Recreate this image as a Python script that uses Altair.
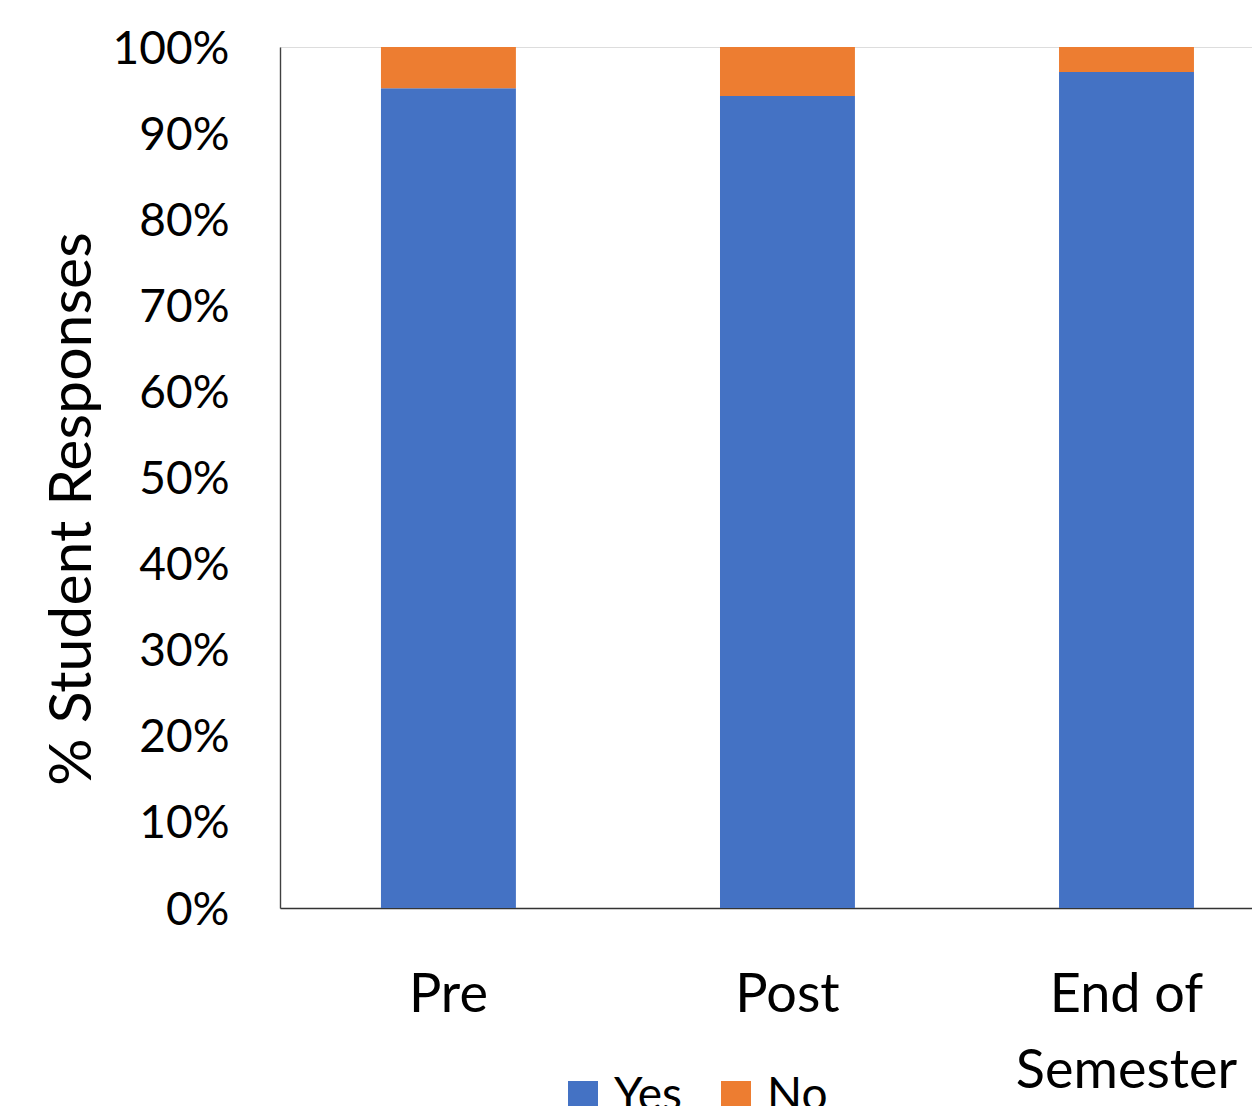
import altair as alt
import pandas as pd

categories = ["Pre", "Post", "End of Semester"]
responses = ["Yes", "No"]
yes_values = [0.952, 0.943, 0.971]
no_values = [0.048, 0.057, 0.029]
colors = ["#4472C4", "#ED7D31"]
y_ticks = [0, 0.1, 0.2, 0.3, 0.4, 0.5, 0.6, 0.7, 0.8, 0.9, 1.0]

rows = []
for c, y, n in zip(categories, yes_values, no_values):
    rows.append({"Time": c, "Response": "Yes", "Share": y, "order": 0})
    rows.append({"Time": c, "Response": "No", "Share": n, "order": 1})
df = pd.DataFrame(rows)

FONT = "Lato"

chart = (
    alt.Chart(df)
    .mark_bar(strokeWidth=0)
    .encode(
        x=alt.X(
            "Time:N",
            sort=categories,
            scale=alt.Scale(paddingInner=0.602, paddingOuter=0.2345, align=0.635),
            axis=alt.Axis(
                title=None,
                labelAngle=0,
                ticks=False,
                tickSize=0,
                labelPadding=60,
                labelFont=FONT,
                labelFontSize=54,
                labelColor="#000000",
                labelLineHeight=76,
                labelLimit=0,
                labelExpr="datum.value == 'End of Semester' ? ['End of', 'Semester'] : datum.value",
                domainColor="#333333",
                domainWidth=1.6,
                labelOverlap=False,
            ),
        ),
        y=alt.Y(
            "Share:Q",
            stack="zero",
            scale=alt.Scale(domain=[0, 1], nice=False),
            axis=alt.Axis(
                title="% Student Responses",
                values=y_ticks,
                format=".0%",
                grid=False,
                ticks=False,
                tickSize=0,
                labelPadding=51,
                labelOffset=2,
                labelFont=FONT,
                labelFontSize=46,
                labelColor="#000000",
                domainColor="#404040",
                domainWidth=1.4,
                titleFont=FONT,
                titleFontSize=59,
                titleFontWeight="normal",
                titleColor="#000000",
                titleAngle=270,
                titleAlign="center",
                titleBaseline="alphabetic",
                titleX=-190,
                titleY=461.5,
            ),
        ),
        color=alt.Color(
            "Response:N",
            scale=alt.Scale(domain=responses, range=colors),
            legend=alt.Legend(
                title=None,
                orient="none",
                direction="horizontal",
                legendX=280,
                legendY=1026,
                padding=0,
                symbolType="square",
                symbolSize=900,
                symbolStrokeWidth=0,
                symbolOpacity=1,
                labelFont=FONT,
                labelFontSize=46,
                labelColor="#000000",
                labelOffset=8,
                columnPadding=31,
                labelLimit=0,
            ),
        ),
        order=alt.Order("order:Q"),
    )
    .properties(
        width=972,
        height=861,
        autosize=alt.AutoSizeParams(type="none"),
        padding={"left": 280, "top": 47, "right": 0, "bottom": 198},
    )
    .configure_view(strokeWidth=0, stroke="transparent")
    .configure(background="white")
)

chart.save("out.html", embed_options={"renderer": "svg", "actions": False})
